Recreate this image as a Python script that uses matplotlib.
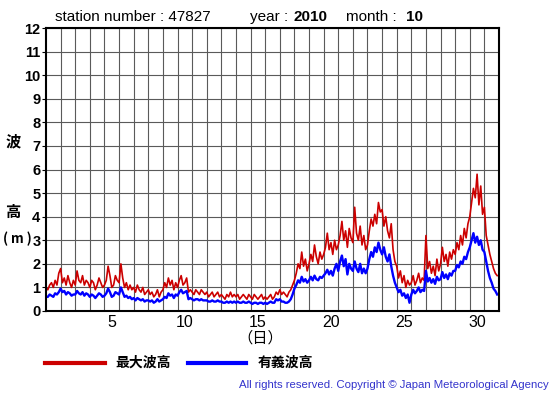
import matplotlib.pyplot as plt
import numpy as np

# 3-hourly values, 8 per day, Oct 1 - Oct 31
max_wave = [
    1.0, 0.9, 1.1, 1.2, 1.0, 1.3, 1.1, 1.6,
    1.8, 1.2, 1.4, 1.1, 1.5, 1.2, 1.0, 1.3,
    1.1, 1.7, 1.3, 1.2, 1.5, 1.1, 1.3, 1.2,
    1.0, 1.3, 1.2, 0.9, 1.1, 1.4, 1.2, 1.0,
    1.1, 1.3, 1.9, 1.5, 1.0, 1.1, 1.5, 1.3,
    1.2, 2.0, 1.4, 1.0, 1.2, 0.9, 1.1, 0.9,
    1.0, 0.8, 1.1, 0.9, 0.8, 1.0, 0.7, 0.8,
    0.9, 0.7, 0.8, 0.6, 0.7, 0.9, 0.6, 0.8,
    0.9, 1.2, 1.0, 1.4, 1.1, 1.3, 0.9, 1.2,
    1.0, 1.3, 1.5, 1.1, 1.2, 1.4, 0.8, 0.9,
    0.8, 0.7, 0.9, 0.8, 0.7, 0.9, 0.8, 0.7,
    0.8, 0.6, 0.7, 0.8, 0.6, 0.7, 0.8, 0.6,
    0.7, 0.6, 0.5, 0.7, 0.6, 0.8, 0.6, 0.7,
    0.6, 0.7, 0.5, 0.6, 0.7, 0.6, 0.5, 0.7,
    0.6, 0.5, 0.7, 0.6, 0.5, 0.6, 0.7, 0.5,
    0.6, 0.5, 0.6, 0.7, 0.5, 0.6, 0.8, 0.7,
    0.9, 0.7, 0.8, 0.7, 0.6, 0.8, 0.9, 1.1,
    1.3, 1.6, 2.0, 1.8, 2.5, 1.9, 2.2, 1.7,
    2.0, 2.4, 2.1, 2.8, 2.3, 2.0, 2.5, 2.2,
    2.4, 2.7, 3.3, 2.6, 2.9, 2.4, 3.0, 2.6,
    2.8, 3.2, 3.8, 3.0, 3.4, 2.7, 3.5, 3.1,
    2.9, 4.4, 3.3, 3.0, 3.6, 2.8, 3.2, 2.6,
    2.8, 3.4, 3.9, 3.6, 4.1, 3.7, 4.6, 4.2,
    4.3, 3.6, 4.0, 3.4, 3.1, 3.7, 2.6, 2.1,
    1.9, 1.4, 1.7, 1.2, 1.5, 1.0, 1.3, 1.1,
    1.2, 1.5, 1.1, 1.3, 1.6, 1.2, 1.4, 1.3,
    3.2, 1.8, 2.1, 1.6, 1.9, 1.5, 2.2, 1.7,
    2.0, 2.7, 2.1, 2.4, 1.9, 2.5, 2.2, 2.6,
    2.4, 2.9, 2.6, 3.2, 2.8, 3.5, 3.1, 3.7,
    4.0, 4.6, 5.2, 4.8, 5.8, 4.5, 5.3, 4.1,
    4.4, 3.2, 2.8, 2.4, 2.1, 1.8, 1.6, 1.5,
]
sig_wave = [
    0.6, 0.6, 0.7, 0.65, 0.6, 0.75, 0.7, 0.8,
    0.95, 0.8, 0.85, 0.7, 0.8, 0.75, 0.65, 0.7,
    0.7, 0.85, 0.75, 0.7, 0.8, 0.65, 0.75, 0.7,
    0.6, 0.7, 0.65, 0.55, 0.65, 0.75, 0.7, 0.6,
    0.65, 0.75, 0.95, 0.8, 0.6, 0.65, 0.8, 0.75,
    0.7, 1.0, 0.8, 0.6, 0.65, 0.55, 0.6, 0.5,
    0.55, 0.45, 0.55, 0.5, 0.45, 0.5, 0.4, 0.45,
    0.45, 0.4, 0.45, 0.35, 0.4, 0.5, 0.4, 0.45,
    0.5, 0.6, 0.55, 0.75, 0.65, 0.7, 0.55, 0.7,
    0.65, 0.8, 0.9, 0.75, 0.8, 0.85, 0.5, 0.55,
    0.5, 0.45, 0.5, 0.5, 0.45, 0.5, 0.45, 0.45,
    0.45, 0.4, 0.4, 0.45, 0.4, 0.4, 0.45, 0.4,
    0.4, 0.35, 0.35, 0.4, 0.35, 0.4, 0.35, 0.4,
    0.35, 0.4, 0.35, 0.35, 0.4, 0.35, 0.35, 0.4,
    0.35, 0.3, 0.35, 0.35, 0.3, 0.35, 0.35, 0.3,
    0.35, 0.3, 0.35, 0.4, 0.35, 0.35, 0.5, 0.45,
    0.5, 0.4, 0.4, 0.35, 0.35, 0.4, 0.5, 0.7,
    0.95, 1.1, 1.3, 1.2, 1.45, 1.25, 1.35, 1.2,
    1.3, 1.45, 1.3, 1.5, 1.35, 1.3, 1.45, 1.4,
    1.5, 1.6, 1.75, 1.55, 1.7, 1.5, 1.8, 2.0,
    1.7, 2.1, 2.35, 1.9, 2.2, 1.55, 2.0, 1.8,
    1.7, 2.1, 1.8, 1.65, 2.0, 1.6, 1.8, 1.6,
    1.8, 2.2, 2.5, 2.3, 2.7, 2.5, 2.9, 2.6,
    2.4, 2.7, 2.3, 2.1, 2.4, 1.9, 1.5, 1.2,
    1.0, 0.8, 0.9, 0.65, 0.75, 0.55, 0.7, 0.35,
    0.7, 0.9, 0.75, 0.85, 1.0, 0.8, 0.9, 0.85,
    1.7, 1.25, 1.4, 1.2, 1.35, 1.15, 1.45, 1.3,
    1.35, 1.65, 1.4, 1.55, 1.35, 1.6, 1.5, 1.7,
    1.7, 1.95, 1.85, 2.1, 2.0, 2.3, 2.2, 2.5,
    2.7, 3.0, 3.3, 2.9, 3.15, 2.8, 3.0, 2.6,
    2.5, 2.1, 1.7, 1.4, 1.2, 0.95, 0.85, 0.7,
]
day_labels = [5, 10, 15, 20, 25, 30]

t = 1 + np.arange(len(max_wave)) / 8.0

cjk = ['Noto Sans CJK JP', 'DejaVu Sans']
sans = ['Liberation Sans', 'DejaVu Sans']

fig = plt.figure(figsize=(5.55, 3.95), dpi=100)
ax = fig.add_axes([46/555, 1-311/395, 453/555, 283/395])

ax.plot(t, max_wave, color='#cc0000', lw=1.2)
ax.plot(t, sig_wave, color='#0000ff', lw=1.7)

ax.set_xlim(1, 32)
ax.set_ylim(0, 12)
ax.set_xticks(range(2, 32))
ax.set_xticklabels([])
ax.tick_params(axis='x', which='major', length=0)
ax.set_xticks([d + 0.5 for d in day_labels], minor=True)
ax.set_xticklabels([str(d) for d in day_labels], minor=True, family=sans, fontsize=11.5)
ax.tick_params(axis='x', which='minor', length=0, pad=3)
ax.set_yticks(range(0, 13))
ax.set_yticklabels([str(v) for v in range(0, 13)], family=sans, fontsize=10.5, fontweight='bold')
ax.tick_params(axis='y', length=3, pad=1)
ax.grid(True, which='major', color='#5a5a5a', lw=0.8)
for s in ax.spines.values():
    s.set_linewidth(1.5)

ty = 1 - 17/395
fig.text(55/555, ty, 'station number : 47827', family=sans, fontsize=11, va='center')
fig.text(250/555, ty, 'year :', family=sans, fontsize=11, va='center')
fig.text(293/555, ty, '2010', family=sans, fontsize=11, va='center', fontweight='bold')
fig.text(346/555, ty, 'month :', family=sans, fontsize=11, va='center')
fig.text(406/555, ty, '10', family=sans, fontsize=11, va='center', fontweight='bold')

fig.text(13/555, 1-141/395, '波', family=cjk, fontsize=11, fontweight='bold', ha='center', va='center')
fig.text(13/555, 1-212/395, '高', family=cjk, fontsize=11, fontweight='bold', ha='center', va='center')
fig.text(3/555, 1-239/395, '( m )', family=cjk, fontsize=9.5, fontweight='bold', ha='left', va='center')
fig.text(260/555, 1-338/395, '（日）', family=cjk, fontsize=11, ha='center', va='center')

fig.add_artist(plt.Line2D([45/555, 105/555], [1-363/395]*2, color='#cc0000', lw=3))
fig.add_artist(plt.Line2D([188/555, 246/555], [1-363/395]*2, color='#0000ff', lw=3))
fig.text(115/555, 1-363/395, '最大波高', family=cjk, fontsize=10, fontweight='bold', va='center')
fig.text(258/555, 1-363/395, '有義波高', family=cjk, fontsize=10, fontweight='bold', va='center')

fig.text(549/555, 1-385/395, 'All rights reserved. Copyright © Japan Meteorological Agency',
         family=sans, fontsize=8.2, color='#3333cc', ha='right', va='center')

fig.savefig('out.png', dpi=100)
